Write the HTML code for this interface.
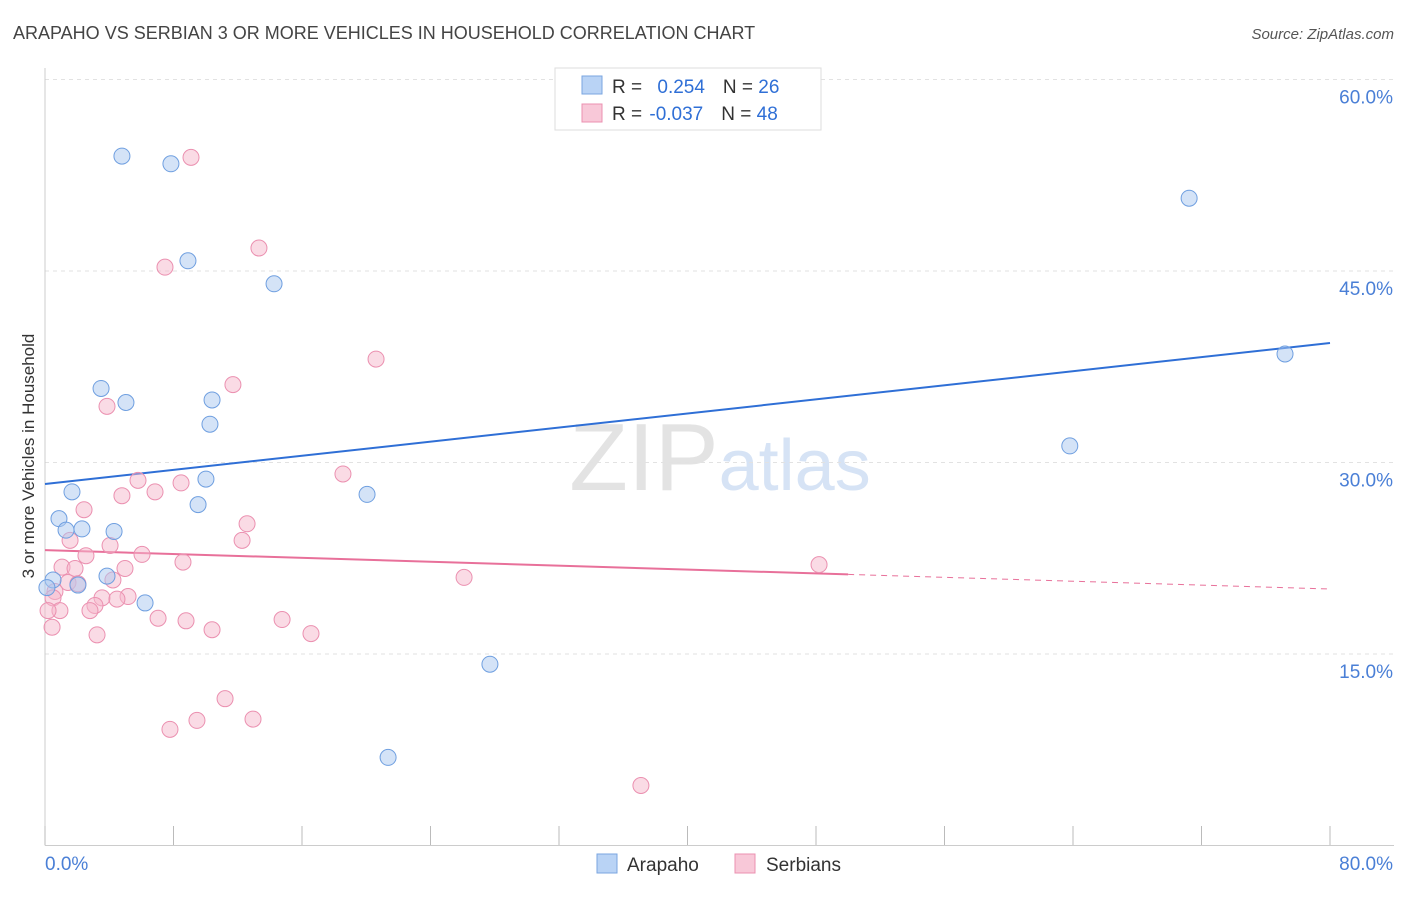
<!DOCTYPE html>
<html><head><meta charset="utf-8"><style>
body{margin:0;background:#fff;font-family:"Liberation Sans",sans-serif}
svg text{font-family:"Liberation Sans",sans-serif}
</style></head><body>
<svg id="chart" width="1406" height="892" xmlns="http://www.w3.org/2000/svg">
<text x="13" y="39" font-size="18" fill="#444">ARAPAHO VS SERBIAN 3 OR MORE VEHICLES IN HOUSEHOLD CORRELATION CHART</text>
<text x="1394" y="39" font-size="15" fill="#555" text-anchor="end" font-style="italic">Source: ZipAtlas.com</text>
<text transform="translate(34,456) rotate(-90)" font-size="17" fill="#333" text-anchor="middle">3 or more Vehicles in Household</text>
<text x="720" y="490" font-size="96" fill="#e3e3e3" text-anchor="middle" font-family="Liberation Serif"><tspan>ZIP</tspan><tspan fill="#d6e3f5" font-family="Liberation Sans" font-size="72">atlas</tspan></text>
<g id="grid"></g><g id="axes"></g><g id="lines"></g><g id="pts"></g>
<g>
<rect x="555" y="68" width="266" height="62" fill="#fff" stroke="#ddd"/>
<rect x="582" y="76" width="20" height="18" fill="#b9d3f5" stroke="#7aa6e0"/>
<text x="612" y="93" font-size="19" fill="#333">R = <tspan fill="#2f6fd6" dx="10">0.254</tspan><tspan dx="18">N = </tspan><tspan fill="#2f6fd6">26</tspan></text>
<rect x="582" y="104" width="20" height="18" fill="#f8c8d8" stroke="#eb90b0"/>
<text x="612" y="120" font-size="19" fill="#333">R = <tspan fill="#2f6fd6" dx="2">-0.037</tspan><tspan dx="18">N = </tspan><tspan fill="#2f6fd6">48</tspan></text>
</g>
<g>
<rect x="597" y="854" width="20" height="19" fill="#b9d3f5" stroke="#7aa6e0"/>
<text x="627" y="871" font-size="19" fill="#333">Arapaho</text>
<rect x="735" y="854" width="20" height="19" fill="#f8c8d8" stroke="#eb90b0"/>
<text x="766" y="871" font-size="19" fill="#333">Serbians</text>
</g>
</svg>
<script>
const yTicks=[15,30,45,60];
const xTickLabels=["0.0%","80.0%"];
const arapahoX=[4.79,7.84,8.90,14.26,71.23,77.2,3.49,5.04,10.40,10.27,63.8,1.68,10.02,20.05,9.53,0.87,1.31,2.30,4.30,3.86,2.05,0.50,0.12,6.23,27.7,21.36];
const arapahoY=[54.0,53.4,45.8,44.0,50.7,38.5,35.8,34.7,34.9,33.0,31.3,27.7,28.7,27.5,26.7,25.6,24.7,24.8,24.6,21.1,20.4,20.8,20.2,19.0,14.2,6.9];
const serbX=[9.09,13.32,7.47,20.61,11.70,3.86,18.55,8.47,5.79,6.85,4.79,2.43,12.58,12.27,4.05,1.56,2.55,6.04,8.59,48.19,26.09,1.06,1.87,4.98,4.23,1.43,2.05,0.62,0.50,3.55,5.17,4.48,3.11,2.80,0.93,0.19,7.04,8.78,14.76,10.40,16.56,0.44,3.24,11.21,12.95,9.46,7.78,37.1];
const serbY=[53.9,46.8,45.3,38.1,36.1,34.4,29.1,28.4,28.6,27.7,27.4,26.3,25.2,23.9,23.5,23.9,22.7,22.8,22.2,22.0,21.0,21.8,21.7,21.7,20.8,20.6,20.5,19.9,19.4,19.4,19.5,19.3,18.8,18.4,18.4,18.4,17.8,17.6,17.7,16.9,16.6,17.1,16.5,11.5,9.9,9.8,9.1,4.7];
const arapahoTrend=[28.32,39.36];
const serbTrend=[23.14,20.09];
const serbSolidEnd=50;
const NS="http://www.w3.org/2000/svg";
const X=v=>45+v/80*1285, Y=v=>845.5-v/15*191.5;
function mk(p,t,a){const e=document.createElementNS(NS,t);for(const k in a)e.setAttribute(k,a[k]);document.getElementById(p).appendChild(e);return e;}
yTicks.forEach(t=>{
 const g=mk('grid','line',{x1:45,x2:1394,y1:Y(t),y2:Y(t),stroke:'#e2e2e2','stroke-dasharray':'4,4'});
 
 
 const l=mk('grid','text',{x:1393,y:Y(t)+24,'font-size':19,fill:'#4a7fd6','text-anchor':'end'});l.textContent=t.toFixed(1)+'%';
 
 
});
const ax=mk('axes','line',{x1:45,x2:1394,y1:845.5,y2:845.5,stroke:'#ccc'});


const ay=mk('axes','line',{x1:45,x2:45,y1:68,y2:845.5,stroke:'#ccc'});


for(let i=0;i<=10;i++){const t=mk('axes','line',{x1:X(i*8),x2:X(i*8),y1:826,y2:845,stroke:'#bbb'});
 
 }
const xl0=mk('axes','text',{x:45,y:870,'font-size':19,fill:'#4a7fd6'});xl0.textContent=xTickLabels[0];


const xl1=mk('axes','text',{x:1393,y:870,'font-size':19,fill:'#4a7fd6','text-anchor':'end'});xl1.textContent=xTickLabels[1];


function pts(xs,ys,fill,stroke,name){xs.forEach((x,i)=>{const c=mk('pts','circle',{cx:X(x),cy:Y(ys[i]),r:8,fill:fill,'fill-opacity':0.5,stroke:stroke,'stroke-width':1});
 
 });}
pts(serbX,serbY,'#f5b8cc','#eb90b0','serbian-point');
pts(arapahoX,arapahoY,'#aac8f0','#6f9fe0','arapaho-point');
const bl=mk('lines','line',{x1:X(0),y1:Y(arapahoTrend[0]),x2:X(80),y2:Y(arapahoTrend[1]),stroke:'#2f6fd6','stroke-width':2});


const ym=serbTrend[0]+(serbTrend[1]-serbTrend[0])*serbSolidEnd/80;
const pl=mk('lines','line',{x1:X(0),y1:Y(serbTrend[0]),x2:X(serbSolidEnd),y2:Y(ym),stroke:'#e8709a','stroke-width':2});


const pd=mk('lines','line',{x1:X(serbSolidEnd),y1:Y(ym),x2:X(80),y2:Y(serbTrend[1]),stroke:'#e8709a','stroke-width':1,'stroke-dasharray':'6,5'});


</script>
</body></html>
